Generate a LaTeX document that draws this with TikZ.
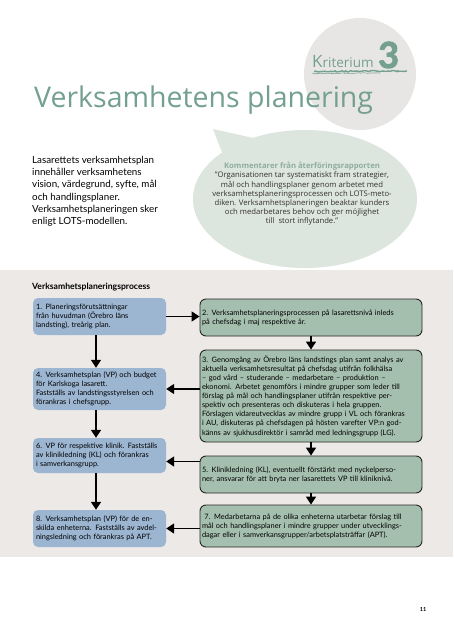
\documentclass[tikz,border=0pt]{standalone}
\usepackage{fontspec}
\setmainfont{Lato}
\newfontfamily\widefont{Open Sans}
\newfontfamily\heavyfont{Lato}[BoldFeatures={FakeBold=2.5}]
\usetikzlibrary{arrows.meta,decorations.pathmorphing}
\definecolor{sage}{HTML}{74A090}
\definecolor{bubblefill}{HTML}{DDE5DF}
\definecolor{bubblehead}{HTML}{8EAE9F}
\definecolor{discfill}{HTML}{E8E6E4}
\definecolor{bandfill}{HTML}{ECE9E7}
\definecolor{bluebox}{HTML}{9CB5D1}
\definecolor{greenbox}{HTML}{A5BFAE}
\tikzset{every edge/.style={draw,line width=1.5pt,
		-{Triangle[length=8pt,width=10pt]}},
	boxtext/.style={font=\fontsize{7.4}{9.1}\selectfont,align=left,inner ysep=3pt}}
\tikzstyle{leftbox}=[boxtext,fill=bluebox,rounded corners=5pt,inner xsep=3pt,text width=127pt,minimum width=133pt]
\tikzstyle{rightbox}=[boxtext,fill=greenbox,draw=black!85,line width=0.9pt,rounded corners=6pt,inner xsep=2pt,text width=218pt,minimum width=222pt]

\begin{document}
\begin{tikzpicture}[x=1pt,y=-1pt]
	\useasboundingbox (0,0) rectangle (453,640);
	\fill[white] (0,0) rectangle (453,640);
	% header
	\fill[discfill] (360,74) circle (56);
	\node[anchor=base west,inner sep=0,text=sage] (title) at (34,107) {\widefont\fontsize{28.5}{29}\selectfont Verksamhetens planering};
	\node[anchor=base west,inner sep=0,text=sage] (krit) at (312,67) {\widefont{\fontsize{17}{17}\selectfont K}{\fontsize{13.5}{14}\selectfont riterium}};
	\node[anchor=base west,inner sep=0,text=sage] (three) at (378,68) {\heavyfont\fontsize{36}{36}\selectfont\bfseries 3};
	\draw[sage,line width=1.4pt,decorate,decoration={random steps,segment length=1.5pt,amplitude=0.6pt}] (314,71.5) -- (407,71);
	\draw[sage,line width=0.5pt,decorate,decoration={random steps,segment length=1pt,amplitude=0.5pt}] (312,73.5) -- (380,73);
	% speech bubble
	\fill[bubblefill] (305,199) ellipse (112 and 69);
	\fill[bubblefill] (213,129) -- (262,140) -- (228,168) -- cycle;
	\node[anchor=north,align=center,inner sep=0,text=black!80,font=\widefont\fontsize{7.7}{9.2}\selectfont] (quote) at (302,162)
	{{\bfseries\color{bubblehead}Kommentarer från återföringsrapporten}\\
		”Organisationen tar systematiskt fram strategier,\\
		mål och handlingsplaner genom arbetet med\\
		verksamhetsplaneringsprocessen och LOTS-meto-\\
		diken. Verksamhetsplaneringen beaktar kunders\\
		och medarbetares behov och ger möjlighet\\
		till\ \ stort inflytande.”};
	\node[anchor=north west,align=left,inner sep=0,font=\fontsize{9.8}{12.2}\selectfont] (intro) at (32,156)
	{Lasarettets verksamhetsplan\\
		innehåller verksamhetens\\
		vision, värdegrund, syfte, mål\\
		och handlingsplaner.\\
		Verksamhetsplaneringen sker\\
		enligt LOTS-modellen.};
	% process band
	\fill[bandfill] (0,270) rectangle (453,557);
	\node[anchor=base west,inner sep=0,font=\fontsize{8.6}{10}\selectfont\bfseries] (proc) at (32,289) {Verksamhetsplaneringsprocess};
	\node[leftbox,minimum height=37pt] (b1) at (99.5,316.5)
	{1. Planeringsförutsättningar\\ från huvudman (Örebro läns\\ landsting), treårig plan.};
	\node[rightbox,minimum height=37pt] (b2) at (311,317.5)
	{2. Verksamhetsplaneringsprocessen på lasarettsnivå inleds\\ på chefsdag i maj respektive år.};
	\node[rightbox,minimum height=92pt] (b3) at (311,396)
	{3. Genomgång av Örebro läns landstings plan samt analys av\\
		aktuella verksamhetsresultat på chefsdag utifrån folkhälsa\\
		– god vård – studerande – medarbetare – produktion –\\
		ekonomi. Arbetet genomförs i mindre grupper som leder till\\
		förslag på mål och handlingsplaner utifrån respektive per-\\
		spektiv och presenteras och diskuteras i hela gruppen.\\
		Förslagen vidareutvecklas av mindre grupp i VL och förankras\\
		i AU, diskuteras på chefsdagen på hösten varefter VP:n god-\\
		känns av sjukhusdirektör i samråd med ledningsgrupp (LG).};
	\node[leftbox,minimum height=42pt] (b4) at (99.5,389)
	{4. Verksamhetsplan (VP) och budget\\ för Karlskoga lasarett.\\ Fastställs av landstingsstyrelsen och\\ förankras i chefsgrupp.};
	\node[rightbox,minimum height=37pt] (b5) at (311,474.5)
	{5. Klinikledning (KL), eventuellt förstärkt med nyckelperso-\\ ner, ansvarar för att bryta ner lasarettets VP till kliniknivå.};
	\node[leftbox,minimum height=35pt] (b6) at (99.5,455.5)
	{6. VP för respektive klinik. Fastställs\\ av klinikledning (KL) och förankras\\ i samverkansgrupp.};
	\node[rightbox,minimum height=42pt] (b7) at (311,526)
	{\ 7. Medarbetarna på de olika enheterna utarbetar förslag till\\ mål och handlingsplaner i mindre grupper under utvecklings-\\ dagar eller i samverkansgrupper/arbetsplatsträffar (APT).};
	\node[leftbox,minimum height=37pt] (b8) at (99.5,528.5)
	{8. Verksamhetsplan (VP) för de en-\\ skilda enheterna. Fastställs av avdel-\\ ningsledning och förankras på APT.};
	\draw (b1.east) edge (b2.west |- b1.east);
	\draw (b2.south) edge (b3.north);
	\draw (b3.south) edge (b5.north);
	\draw (b5.south) edge (b7.north);
	\draw ([xshift=-3.5pt]b1.south) edge ([xshift=-3.5pt]b4.north);
	\draw ([xshift=-3.5pt]b4.south) edge ([xshift=-3.5pt]b6.north);
	\draw ([xshift=-3.5pt]b6.south) edge ([xshift=-3.5pt]b8.north);
	\draw (b3.west |- b4.east) edge (b4.east);
	\draw ([yshift=-6pt]b5.west |- b6.east) edge ([yshift=-6pt]b6.east);
	\draw (b7.west |- b8.east) edge (b8.east);
	\node[inner sep=0,font=\fontsize{5.5}{6}\selectfont\bfseries] (page) at (423,610) {11};
\end{tikzpicture}
\end{document}
